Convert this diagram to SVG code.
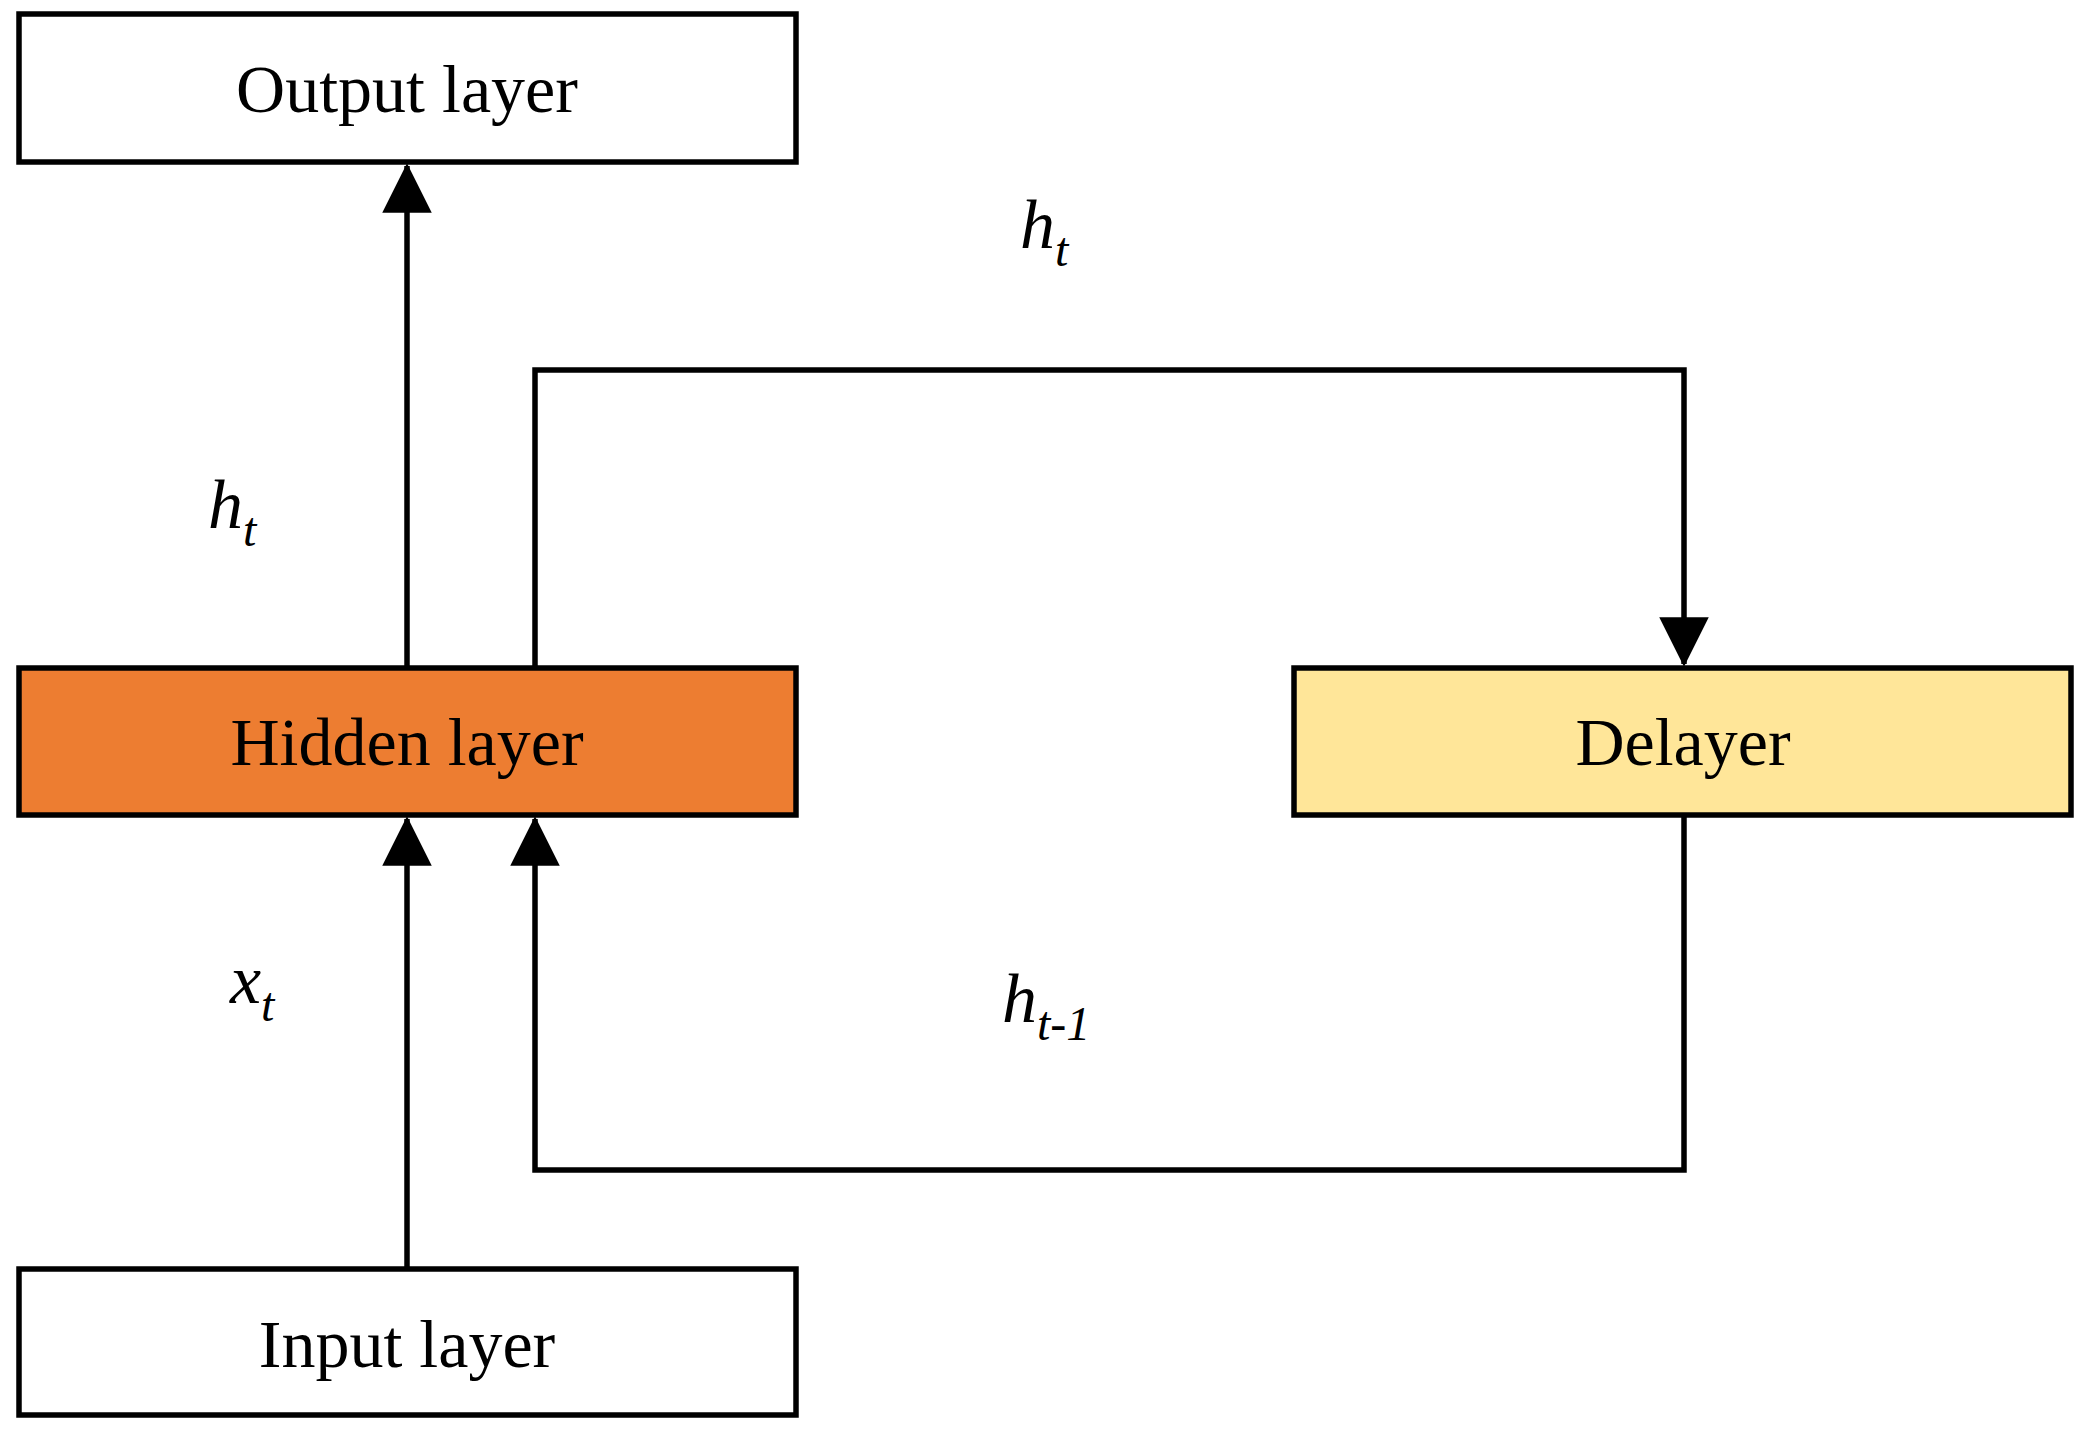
<svg xmlns="http://www.w3.org/2000/svg" width="2081" height="1431" viewBox="0 0 2081 1431">
<style>
.box{stroke:#000;stroke-width:5.5}
.lbl{font-family:"Liberation Serif","DejaVu Serif",serif;font-size:68px;text-anchor:middle;fill:#000}
.math{font-family:"Liberation Serif","DejaVu Serif",serif;font-style:italic;font-size:70px;fill:#000}
.sub{font-size:48px}
.ln{fill:none;stroke:#000;stroke-width:5.5}
</style>
<defs>
<marker id="ah" markerWidth="9" markerHeight="9" refX="8.5" refY="4.5" orient="auto" markerUnits="strokeWidth">
<path d="M0,0 L9,4.5 L0,9 Z" fill="#000"/>
</marker>
</defs>
<rect width="2081" height="1431" fill="#fff"/>
<g id="output"><rect class="box" x="19" y="14" width="777" height="148" fill="#fff"/><text class="lbl" x="407" y="112">Output layer</text></g>
<g id="hidden"><rect class="box" x="19" y="668" width="777" height="147" fill="#ED7D31"/><text class="lbl" x="407" y="765">Hidden layer</text></g>
<g id="delayer"><rect class="box" x="1294" y="668" width="777" height="147" fill="#FFE699"/><text class="lbl" x="1683" y="765">Delayer</text></g>
<g id="input"><rect class="box" x="19" y="1269" width="777" height="146" fill="#fff"/><text class="lbl" x="407" y="1367">Input layer</text></g>
<g id="connectors">
<line class="ln" x1="407" y1="668" x2="407" y2="166" marker-end="url(#ah)"/>
<polyline class="ln" points="535,668 535,370 1684,370 1684,664" marker-end="url(#ah)"/>
<polyline class="ln" points="1684,815 1684,1170 535,1170 535,819" marker-end="url(#ah)"/>
<line class="ln" x1="407" y1="1269" x2="407" y2="819" marker-end="url(#ah)"/>
</g>
<g id="labels">
<text class="math" x="1020" y="248">h<tspan class="sub" dy="18">t</tspan></text>
<text class="math" x="208" y="528">h<tspan class="sub" dy="18">t</tspan></text>
<text class="math" x="230" y="1003">x<tspan class="sub" dy="18">t</tspan></text>
<text class="math" x="1002" y="1022">h<tspan class="sub" dy="18">t-1</tspan></text>
</g>
</svg>
